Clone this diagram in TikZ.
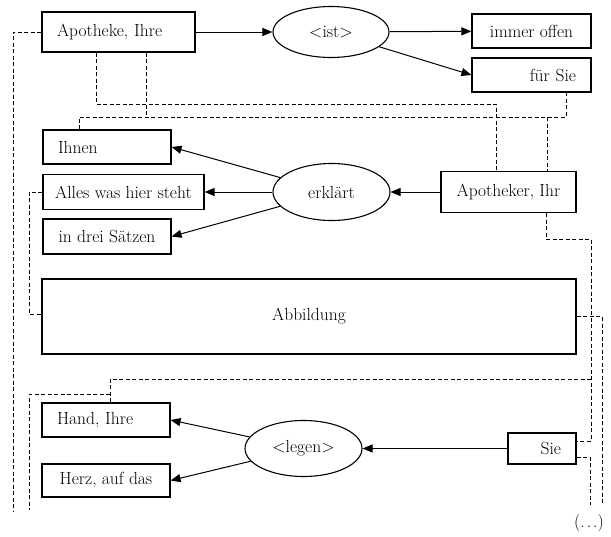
\documentclass[tikz,border=0pt]{standalone}
\usepackage{fontspec}
\usetikzlibrary{shapes.geometric,arrows.meta}
\begin{document}
\begin{tikzpicture}[x=1pt,y=-1pt,
  every node/.style={font=\fontsize{17.5}{20}\selectfont},
  box/.style={draw,rectangle,line width=1.1pt,inner xsep=15pt,inner ysep=0pt},
  rel/.style={draw,ellipse,line width=1.1pt,inner sep=0pt},
  arr/.style={line width=1pt,-{Triangle[length=10pt,width=8pt]}},
  link/.style={line width=1pt,dash pattern=on 4pt off 2.5pt}]
			\useasboundingbox (0,0) rectangle (611,536);
            % Upper block.
			\node[box,text width=123pt,align=left,minimum height=40pt] (apo) at (118.5,32) {Apotheke, Ihre};
			\node[rel,minimum width=116pt,minimum height=51pt] (ist) at (331,32) {<ist>};
			\node[box,minimum width=119pt,minimum height=34pt] (offen) at (531.5,31) {immer offen};
			\node[box,text width=89pt,align=right,minimum height=34pt] (fuer) at (531.5,75) {für Sie};
			\draw[arr] (apo) -- (ist);
			\draw[arr] (ist) -- (offen);
			\draw[arr] (ist) -- (fuer.west);
            % Middle block.
			\node[box,text width=98pt,align=left,minimum height=34pt] (ihnen) at (107,147) {Ihnen};
			\node[box,minimum width=161pt,minimum height=35pt,inner xsep=10pt] (alles) at (123.5,192) {Alles was hier steht};
			\node[box,minimum width=128pt,minimum height=35pt] (saetze) at (107,236.5) {in drei Sätzen};
			\node[rel,minimum width=117pt,minimum height=57pt] (erkl) at (331.5,192) {erklärt};
			\node[box,minimum width=135pt,minimum height=41pt] (apor) at (508.5,192) {Apotheker, Ihr};
			\draw[arr] (apor) -- (erkl);
			\draw[arr] (erkl) -- (ihnen.east);
			\draw[arr] (erkl) -- (alles);
			\draw[arr] (erkl) -- (saetze.east);
			\node[box,minimum width=534pt,minimum height=75pt] (abb) at (309,316.5) {Abbildung};
            % Lower block.
			\node[box,text width=98pt,align=left,minimum height=34pt] (hand) at (106,420) {Hand, Ihre};
			\node[box,minimum width=128pt,minimum height=33pt] (herz) at (106,480.5) {Herz, auf das};
			\node[rel,minimum width=117pt,minimum height=56pt] (legen) at (303.5,448.5) {<legen>};
			\node[box,text width=38pt,align=right,minimum height=31pt] (sie) at (542,448.5) {Sie};
			\draw[arr] (sie) -- (legen);
			\draw[arr] (legen) -- (hand.east);
			\draw[arr] (legen) -- (herz.east);
			\node (dots) at (589,523) {(.\kern2pt.\kern2pt.)};
            % Dashed links.
			\coordinate (k1) at (96,104);
			\coordinate (k2) at (496,104);
			\coordinate (k3) at (146,117);
			\coordinate (k4) at (79,117);
			\coordinate (k5) at (547,117);
			\coordinate (k6) at (566,117);
			\coordinate (k7) at (29,314);
			\coordinate (k8) at (546,239);
			\coordinate (k9) at (591,239);
			\coordinate (k10) at (591,441);
			\coordinate (k11) at (110,379);
			\coordinate (k12) at (110,394);
			\coordinate (k13) at (29,510);
			\coordinate (k14) at (602,505);
			\coordinate (k15) at (590,457);
			\coordinate (k16) at (590,505);
			\draw[link] (apo.west) -| (13,512);
			\draw[link] (k1 |- apo.south) -- (k1) -- (k2) -- (k2 |- apor.north);
			\draw[link] (k3 |- apo.south) -- (k3);
			\draw[link] (k4 |- ihnen.north) -- (k4) -- (k6) -- (k6 |- fuer.south);
			\draw[link] (k5) -- (k5 |- apor.north);
			\draw[link] (alles.west) -| (k7) -- (k7 -| abb.west);
			\draw[link] (k8 |- apor.south) -- (k8) -- (k9) -- (k10) -- (k10 -| sie.east);
			\draw[link] (k11 |- hand.north) -- (k11) -- (k11 -| k9);
			\draw[link] (k12) -| (k13);
			\draw[link] (abb.east) -| (k14);
			\draw[link] (k15 -| sie.east) -- (k15) -- (k16);
		\end{tikzpicture}
\end{document}
